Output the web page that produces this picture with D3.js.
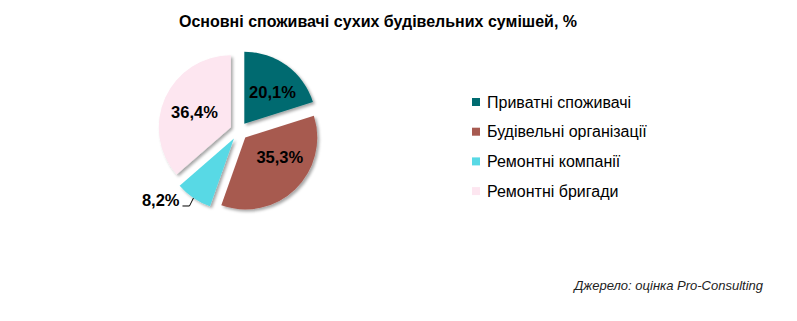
<!DOCTYPE html>
<html>
  <head>
    <meta charset="utf-8">
    <title>Pie chart</title>
    <script src="https://d3js.org/d3.v7.min.js"></script>
    <style type="text/css">
      body {
          margin: 0;
          background: #ffffff;
          font-family: "Liberation Sans", Arial, sans-serif;
      }
    </style>
  </head>
  <body>
    <script>
        // Chart data
        var categories = ["Приватні споживачі", "Будівельні організації", "Ремонтні компанії", "Ремонтні бригади"];
        var values = [20.1, 35.3, 8.2, 36.4];
        var labels = ["20,1%", "35,3%", "8,2%", "36,4%"];
        var colors = ["#006b70", "#a75a50", "#58d9e5", "#fde6f0"];

        var svgWidth = 797;
        var svgHeight = 321;
        var cx = 239;
        var cy = 131;
        var radius = 72;
        var explode = 9;

        var svg = d3.select("body")
                    .append("svg")
                    .attr("width", svgWidth)
                    .attr("height", svgHeight);

        // Drop shadow for slices
        var filter = svg.append("defs").append("filter")
                        .attr("id", "shadow")
                        .attr("x", "-20%").attr("y", "-20%")
                        .attr("width", "150%").attr("height", "150%");
        filter.append("feDropShadow")
              .attr("dx", 2).attr("dy", 2)
              .attr("stdDeviation", 1.5)
              .attr("flood-color", "#000")
              .attr("flood-opacity", 0.35);

        // Title
        svg.append("text")
           .attr("x", 378)
           .attr("y", 27)
           .attr("text-anchor", "middle")
           .attr("font-size", "16px")
           .attr("font-weight", "bold")
           .text("Основні споживачі сухих будівельних сумішей, %");

        var pie = d3.pie().sort(null).value(function(d) { return d; });
        var arc = d3.arc().innerRadius(0).outerRadius(radius);
        var arcs = pie(values);

        var g = svg.append("g").attr("transform", "translate(" + cx + "," + cy + ")");

        function offset(d, r) {
            var a = (d.startAngle + d.endAngle) / 2;
            return [Math.sin(a) * r, -Math.cos(a) * r];
        }

        // Slices
        g.selectAll("path")
         .data(arcs)
         .enter()
         .append("path")
         .attr("d", arc)
         .attr("fill", function(d, i) { return colors[i]; })
         .attr("filter", "url(#shadow)")
         .attr("transform", function(d) {
             var o = offset(d, explode);
             return "translate(" + o[0] + "," + o[1] + ")";
         });

        // Labels inside slices (small nudges like Excel's best fit)
        var labelRadius = 50;
        var nudge = {0: [4, 2], 1: [6, -10], 3: [1, 2]};
        g.selectAll("text.inside")
         .data(arcs.filter(function(d, i) { return i != 2; }))
         .enter()
         .append("text")
         .attr("class", "inside")
         .attr("x", function(d) { return offset(d, labelRadius)[0] + nudge[d.index][0]; })
         .attr("y", function(d) { return offset(d, labelRadius)[1] + nudge[d.index][1]; })
         .attr("dy", "0.35em")
         .attr("text-anchor", "middle")
         .attr("font-size", "16.5px")
         .attr("font-weight", "bold")
         .text(function(d) { return labels[d.index]; });

        // Small slice label outside with leader line
        var small = arcs[2];
        var edge = offset(small, explode + radius);
        g.append("polyline")
         .attr("points", [[edge[0], edge[1]], [edge[0] - 4, edge[1] + 8], [edge[0] - 11, edge[1] + 8]].join(" "))
         .attr("fill", "none")
         .attr("stroke", "#000")
         .attr("stroke-width", 1);
        g.append("text")
         .attr("x", edge[0] - 14)
         .attr("y", edge[1] + 2)
         .attr("dy", "0.35em")
         .attr("text-anchor", "end")
         .attr("font-size", "16.5px")
         .attr("font-weight", "bold")
         .text(labels[2]);

        // Legend
        var legend = svg.append("g").attr("transform", "translate(472, 102)");
        var items = legend.selectAll("g")
                          .data(categories)
                          .enter()
                          .append("g")
                          .attr("transform", function(d, i) { return "translate(0," + (i * 29.7) + ")"; });
        items.append("rect")
             .attr("x", 0).attr("y", -4)
             .attr("width", 8).attr("height", 8)
             .attr("fill", function(d, i) { return colors[i]; });
        items.append("text")
             .attr("x", 15)
             .attr("y", 0)
             .attr("dy", "0.35em")
             .attr("font-size", "16px")
             .text(function(d) { return d; });

        // Source note
        svg.append("text")
           .attr("x", 763)
           .attr("y", 285)
           .attr("dy", "0.35em")
           .attr("text-anchor", "end")
           .attr("font-size", "13px")
           .attr("font-style", "italic")
           .attr("fill", "#222")
           .text("Джерело: оцінка Pro-Consulting");
    </script>
  </body>
</html>
